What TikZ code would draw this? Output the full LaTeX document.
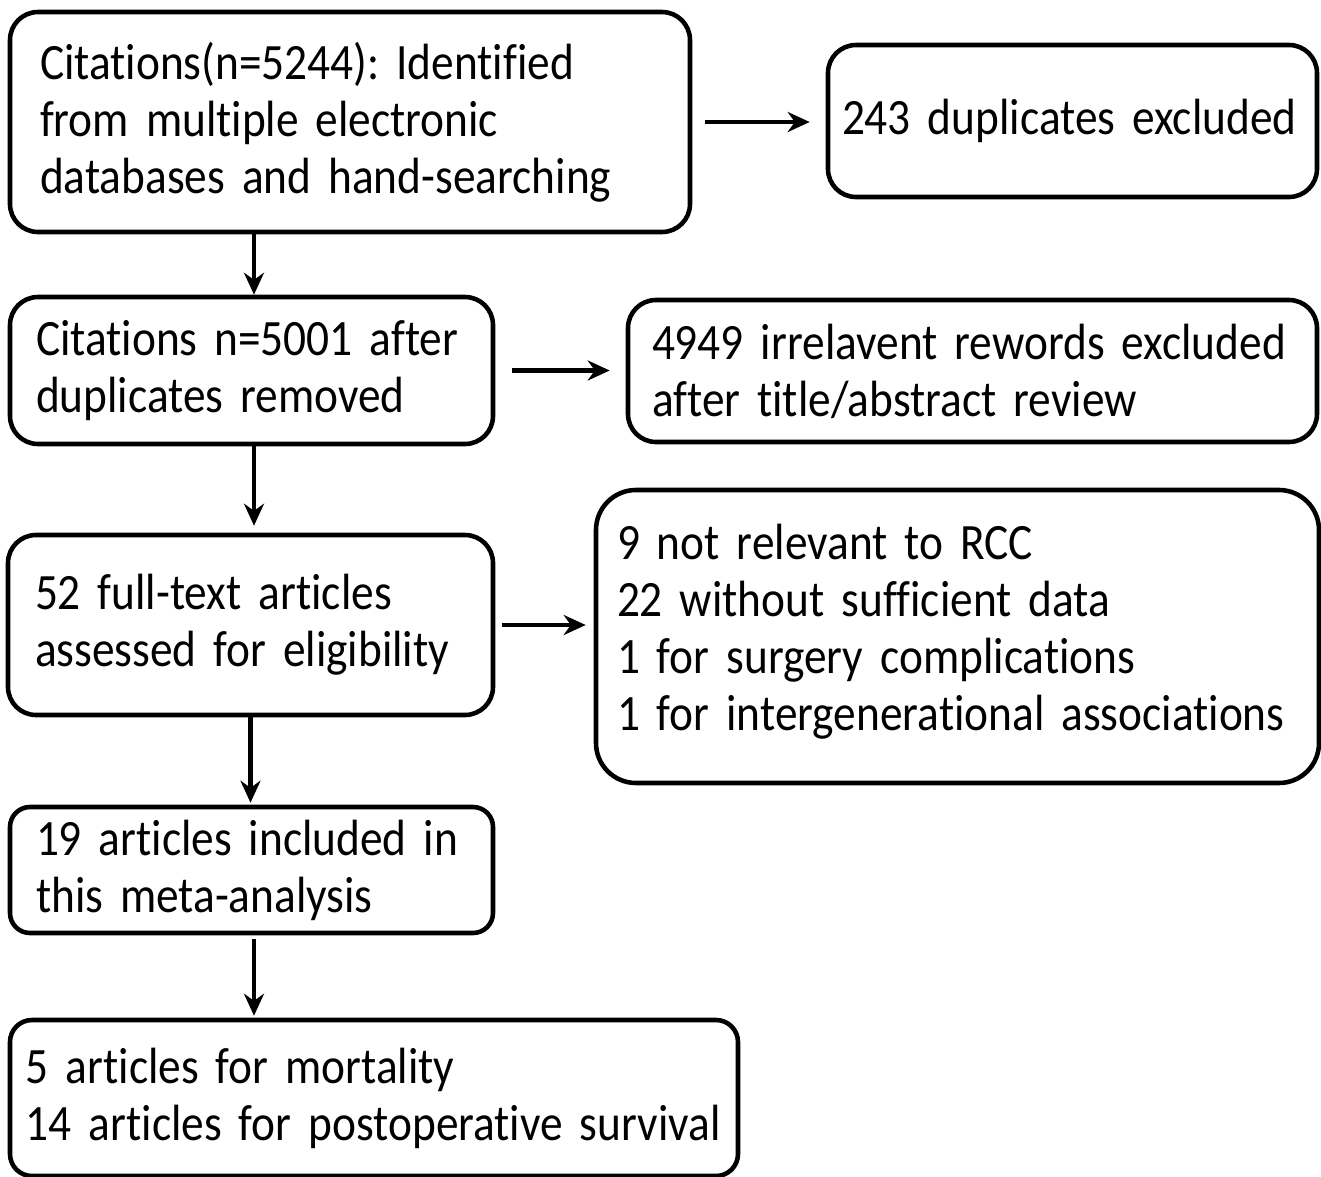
\documentclass[tikz,border=0pt]{standalone}
\usepackage{fontspec}
\setmainfont{Carlito}[Ligatures=NoCommon, FakeStretch=0.89]
\usetikzlibrary{arrows.meta}
\frenchspacing
\newcommand{\boxfont}{\fontsize{14.5pt}{16.2pt}\selectfont\spaceskip=0.17em plus 0.05em\relax}
\begin{document}
\begin{tikzpicture}[
    block/.style={
      rectangle,
      draw=black,
      line width=1.3pt,
      rounded corners=0.28cm,
      align=left,
      inner ysep=0pt,
      font=\boxfont
    },
    link/.style={
      -{Stealth[length=0.22cm,width=0.2cm]},
      line width=1.3pt
    }]

    \useasboundingbox (0,0) rectangle (13.21,-11.77);

    % search box
    \node[block, inner xsep=0.30cm, text width=6.20cm, minimum height=2.20cm]
      (A) at (3.50,-1.22) {Citations(n=5244): Identified\\from multiple electronic\\databases and hand-searching};
    % duplicates box
    \node[block, inner xsep=0.14cm, text width=4.61cm, minimum height=1.52cm]
      (B) at (10.725,-1.21) {243 duplicates excluded};
    % screening
    \node[block, inner xsep=0.26cm, text width=4.31cm, minimum height=1.47cm]
      (C) at (2.515,-3.705) {Citations n=5001 after\\duplicates removed};
    \node[block, inner xsep=0.24cm, text width=6.41cm, minimum height=1.42cm]
      (D) at (9.725,-3.71) {4949 irrelavent rewords excluded\\after title/abstract review};
    % eligibility
    \node[block, inner xsep=0.27cm, text width=4.31cm, minimum height=1.80cm]
      (E) at (2.505,-6.25) {52 full-text articles\\assessed for eligibility};
    \node[block, inner xsep=0.21cm, text width=6.81cm, minimum height=2.93cm,
      rounded corners=0.4cm]
      (F) at (9.575,-6.365) {9 not relevant to RCC\\22 without sufficient data\\1 for surgery complications\\1 for intergenerational associations\\[-0.38cm]\hbox{}};
    % included
    \node[block, inner xsep=0.26cm, text width=4.31cm, minimum height=1.26cm,
      rounded corners=0.2cm]
      (G) at (2.515,-8.70) {19 articles included in\\this meta-analysis};
    \node[block, inner xsep=0.16cm, text width=6.96cm, minimum height=1.56cm,
      rounded corners=0.22cm]
      (H) at (3.74,-10.98) {5 articles for mortality\\14 articles for postoperative survival};

    % lines
    \draw[link, shorten <=0.13cm, shorten >=0.16cm] (A.east) -- (A.east -| B.west);
    \draw[link, shorten <=0.17cm, shorten >=0.16cm] (C.east) -- (C.east -| D.west);
    \draw[link, shorten <=0.07cm, shorten >=0.08cm] (E.east) -- (E.east -| F.west);
    \draw[link] ([xshift=0.025cm]C.north |- A.south) -- ([xshift=0.025cm]C.north);
    \draw[link, shorten >=0.07cm] ([xshift=0.025cm]C.south) -- ([xshift=0.025cm]C.south |- E.north);
    \draw[link, shorten >=0.02cm] (E.south) -- (E.south |- G.north);
    \draw[link, shorten <=0.04cm, shorten >=0.02cm] ([xshift=0.025cm]G.south) -- ([xshift=0.025cm]G.south |- H.north);
  \end{tikzpicture}
\end{document}
